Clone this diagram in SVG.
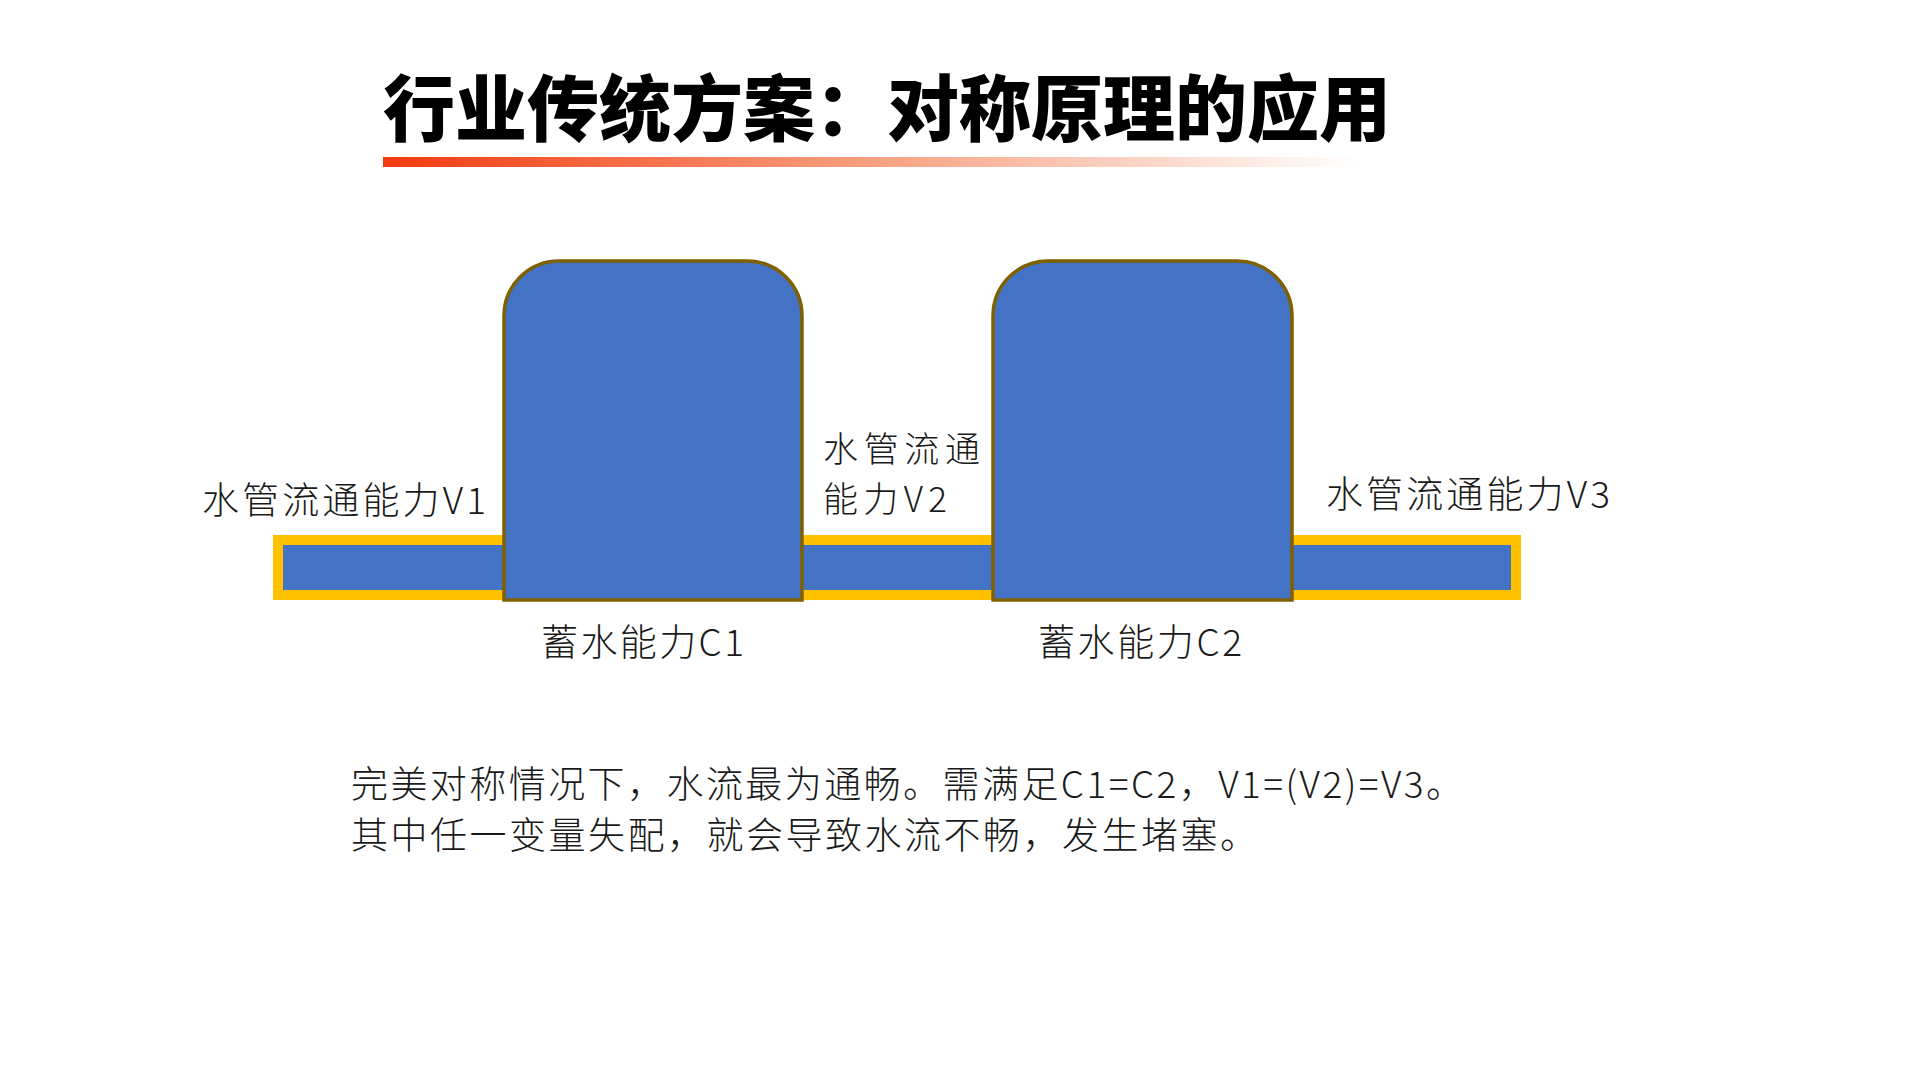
<svg xmlns="http://www.w3.org/2000/svg" width="1920" height="1080" viewBox="0 0 1920 1080">
<defs>
<linearGradient id="g" x1="0" x2="1" y1="0" y2="0">
<stop offset="0" stop-color="#F23A0F"/><stop offset="0.5" stop-color="#F7A080"/><stop offset="1" stop-color="#FFFFFF"/>
</linearGradient>
<style>
.t{font-family:"Noto Sans CJK SC","Liberation Sans",sans-serif;font-size:37px;font-weight:300;fill:#1a1a1a;}
.v2{font-size:35px;}
.tank{fill:#4472C4;stroke:#7F6000;stroke-width:3.5;}
</style>
</defs>
<rect width="1920" height="1080" fill="#fff"/>
<text x="383" y="135" style="font-family:'Noto Sans CJK SC',sans-serif;font-size:72px;font-weight:900;fill:#000">行业传统方案：对称原理的应用</text>
<rect x="383" y="157" width="976" height="10" fill="url(#g)"/>
<g id="pipe"><rect x="278" y="540" width="1238" height="55" fill="#4472C4" stroke="#FFC000" stroke-width="10"/></g>
<g id="tank1"><path class="tank" d="M504 600 V316 A55 55 0 0 1 559 261 H747 A55 55 0 0 1 802 316 V600 Z"/></g>
<g id="tank2"><path class="tank" d="M993 600 V316 A55 55 0 0 1 1048 261 H1237 A55 55 0 0 1 1292 316 V600 Z"/></g>
<g id="labels">
<text class="t" x="202" y="514" textLength="284" lengthAdjust="spacing">水管流通能力V1</text>
<text class="t v2" x="823" y="462" textLength="157" lengthAdjust="spacing">水管流通</text>
<text class="t v2" x="823" y="512" textLength="124" lengthAdjust="spacing">能力V2</text>
<text class="t" x="1326" y="508" textLength="284" lengthAdjust="spacing">水管流通能力V3</text>
<text class="t" x="541" y="656" textLength="203" lengthAdjust="spacing">蓄水能力C1</text>
<text class="t" x="1038" y="656" textLength="204" lengthAdjust="spacing">蓄水能力C2</text>
<text class="t" x="351" y="798" textLength="1112" lengthAdjust="spacing">完美对称情况下，水流最为通畅。需满足C1=C2，V1=(V2)=V3。</text>
<text class="t" x="351" y="849" textLength="906" lengthAdjust="spacing">其中任一变量失配，就会导致水流不畅，发生堵塞。</text>
</g>
</svg>
